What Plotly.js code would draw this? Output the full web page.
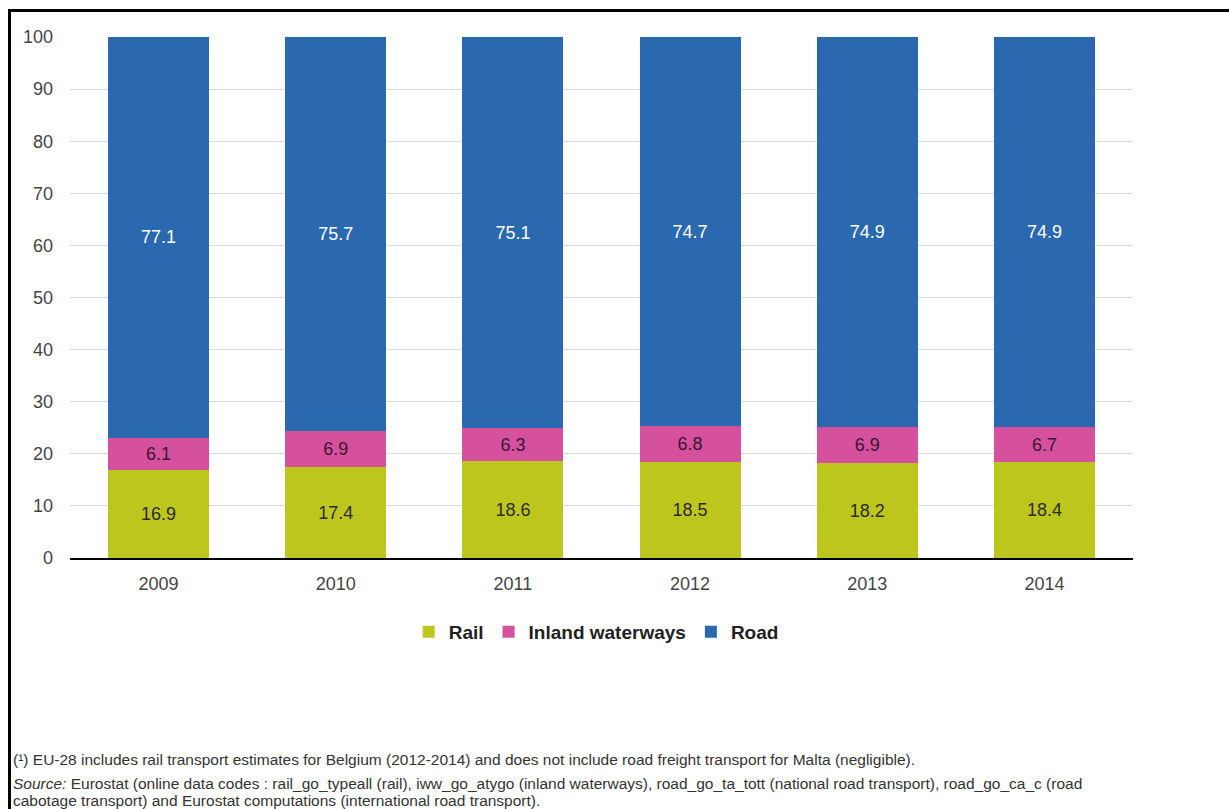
<!DOCTYPE html>
<html>
<head>
<meta charset="utf-8">
<script src="https://cdn.plot.ly/plotly-3.0.1.min.js"></script>
<style>
  html, body { margin: 0; padding: 0; background: #fff; }
  #wrap { position: relative; width: 1229px; height: 809px; overflow: hidden; }
  #chart { width: 1229px; height: 809px; }
  #frame { position: absolute; left: 8px; top: 9px; width: 1240px; height: 820px;
           border-left: 3px solid #000; border-top: 3px solid #000; pointer-events: none; }
</style>
</head>
<body>
<div id="wrap">
  <div id="chart"></div>
  <div id="frame"></div>
</div>
<script>
const years = ['2009', '2010', '2011', '2012', '2013', '2014'];
const rail = [16.9, 17.4, 18.6, 18.5, 18.2, 18.4];
const inland = [6.1, 6.9, 6.3, 6.8, 6.9, 6.7];
const road = [77.1, 75.7, 75.1, 74.7, 74.9, 74.9];
const seriesNames = ['Rail', 'Inland waterways', 'Road'];
const yTicks = [0, 10, 20, 30, 40, 50, 60, 70, 80, 90, 100];

const FONT = 'Liberation Sans, Arial, sans-serif';

function barTrace(name, vals, color, textColor) {
  return {
    type: 'bar', name: name, x: years, y: vals,
    marker: { color: color, line: { width: 0 } },
    text: vals.map(v => v.toFixed(1)),
    textposition: 'inside', insidetextanchor: 'middle',
    textfont: { family: FONT, size: 18, color: textColor },
    hoverinfo: 'x+y+name'
  };
}

const data = [
  barTrace(seriesNames[0], rail, '#bdc61c', '#2b2b2b'),
  barTrace(seriesNames[1], inland, '#d5519e', '#3b1530'),
  barTrace(seriesNames[2], road, '#2a69b0', '#ffffff')
];

const noteFont = { family: FONT, size: 15.5, color: '#333' };
function note(text, yPx) {
  return {
    xref: 'paper', yref: 'paper', x: -0.0555, y: (558 - yPx) / 521,
    xanchor: 'left', yanchor: 'middle', showarrow: false, align: 'left',
    text: text, font: noteFont
  };
}

const layout = {
  width: 1229, height: 809,
  margin: { l: 70, r: 96, t: 37, b: 251 },
  paper_bgcolor: '#fff', plot_bgcolor: '#fff',
  barmode: 'stack', bargap: 0.43,
  showlegend: true,
  legend: {
    orientation: 'h', x: 0.495, xanchor: 'center', y: -0.142, yanchor: 'middle',
    font: { family: FONT, size: 19, color: '#222', weight: 'bold' },
    traceorder: 'normal', itemwidth: 30
  },
  xaxis: {
    type: 'category', showgrid: false, showline: true, linecolor: '#000', linewidth: 1.5,
    ticks: '', tickfont: { family: FONT, size: 18, color: '#444' },
    ticklabelstandoff: 9
  },
  yaxis: {
    range: [0, 100], tickvals: yTicks, showgrid: true, gridcolor: '#d9d9d9', gridwidth: 1,
    zeroline: false, showline: false, ticks: '',
    tickfont: { family: FONT, size: 18, color: '#444' },
    ticklabelstandoff: 16, fixedrange: true
  },
  annotations: [
    note('(¹) EU-28 includes rail transport estimates for Belgium (2012-2014) and does not include road freight transport for Malta (negligible).', 759),
    note('<i>Source:</i> Eurostat (online data codes : rail_go_typeall (rail), iww_go_atygo (inland waterways), road_go_ta_tott (national road transport), road_go_ca_c (road', 783),
    note('cabotage transport) and Eurostat computations (international road transport).', 800)
  ]
};

Plotly.newPlot('chart', data, layout, { displayModeBar: false, staticPlot: true });
</script>
</body>
</html>
